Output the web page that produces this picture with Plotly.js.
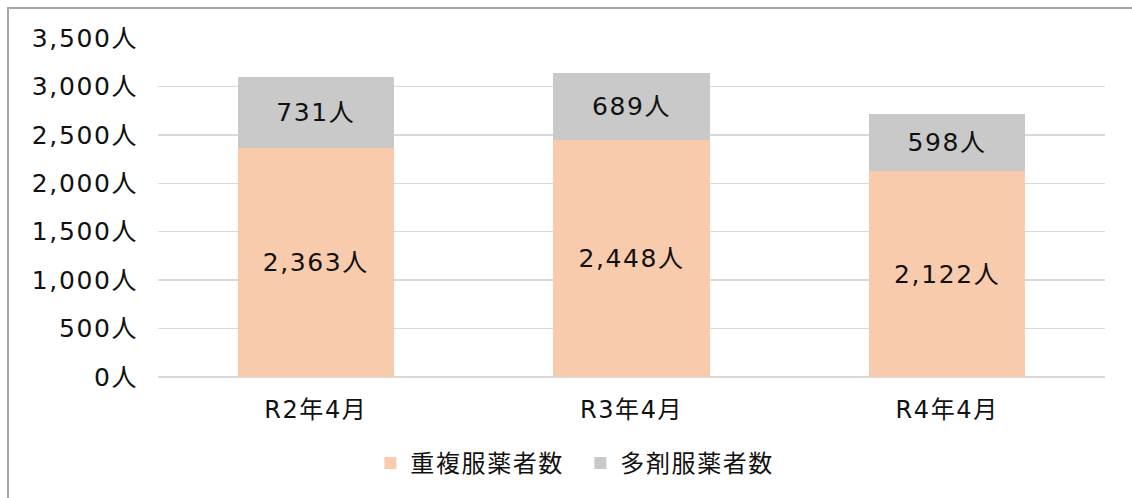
<!DOCTYPE html>
<html><head><meta charset="utf-8">
<script src="https://cdn.plot.ly/plotly-3.0.1.min.js"></script>
<style>
html,body{margin:0;padding:0;background:#fff;overflow:hidden}
#chart{width:1132px;height:498px;position:absolute;left:0;top:0}
#chart svg text{letter-spacing:1.6px}
#frame{position:absolute;left:7px;top:7px;width:2000px;height:2000px;border-left:2px solid #a6a6a6;border-top:2px solid #a6a6a6;pointer-events:none}
</style></head>
<body>
<div id="chart"></div>
<div id="frame"></div>
<script>
const categories = ['R2年4月', 'R3年4月', 'R4年4月'];
const seriesNames = ['重複服薬者数', '多剤服薬者数'];
const duplicateValues = [2363, 2448, 2122];
const multiDrugValues = [731, 689, 598];
const yTickVals = [0, 500, 1000, 1500, 2000, 2500, 3000, 3500];

const fmt = v => v.toLocaleString('en-US') + '人';
const font = '"DejaVu Sans", "Noto Sans CJK JP", sans-serif';
const txt = '#111111';

const traces = [
  {type:'bar', name:seriesNames[0], x:categories, y:duplicateValues,
   marker:{color:'#F8CBAD'}, text:duplicateValues.map(fmt), textposition:'inside',
   insidetextanchor:'middle', textfont:{size:25, color:txt, family:font}, hoverinfo:'skip'},
  {type:'bar', name:seriesNames[1], x:categories, y:multiDrugValues,
   marker:{color:'#C9C9C9'}, text:multiDrugValues.map(fmt), textposition:'inside',
   insidetextanchor:'middle', textfont:{size:25, color:txt, family:font}, hoverinfo:'skip'}
];

const layout = {
  width:1132, height:498,
  margin:{l:158, r:27, t:38, b:118},
  barmode:'stack', bargap:0.505,
  paper_bgcolor:'#fff', plot_bgcolor:'#fff',
  font:{family:font, size:24, color:txt},
  showlegend:true,
  legend:{orientation:'h', x:0.446, xanchor:'center', y:-0.255, yanchor:'middle',
          font:{size:24, family:font, color:txt}, traceorder:'normal', itemwidth:30, entrywidth:165},
  xaxis:{type:'category', showgrid:false, zeroline:false, showline:false,
         ticks:'outside', ticklen:11, tickcolor:'rgba(0,0,0,0)',
         tickfont:{size:24, family:font, color:txt}},
  yaxis:{range:[0,3500], tickvals:yTickVals, ticktext:yTickVals.map(fmt),
         showgrid:true, gridcolor:'#d9d9d9', gridwidth:1.3, zeroline:true, zerolinecolor:'#d9d9d9', zerolinewidth:1.3,
         showline:false, ticks:'outside', ticklen:14, tickcolor:'rgba(0,0,0,0)',
         tickfont:{size:25, family:font, color:txt}}
};

Plotly.newPlot('chart', traces, layout, {displayModeBar:false, staticPlot:true});
</script>
</body></html>
